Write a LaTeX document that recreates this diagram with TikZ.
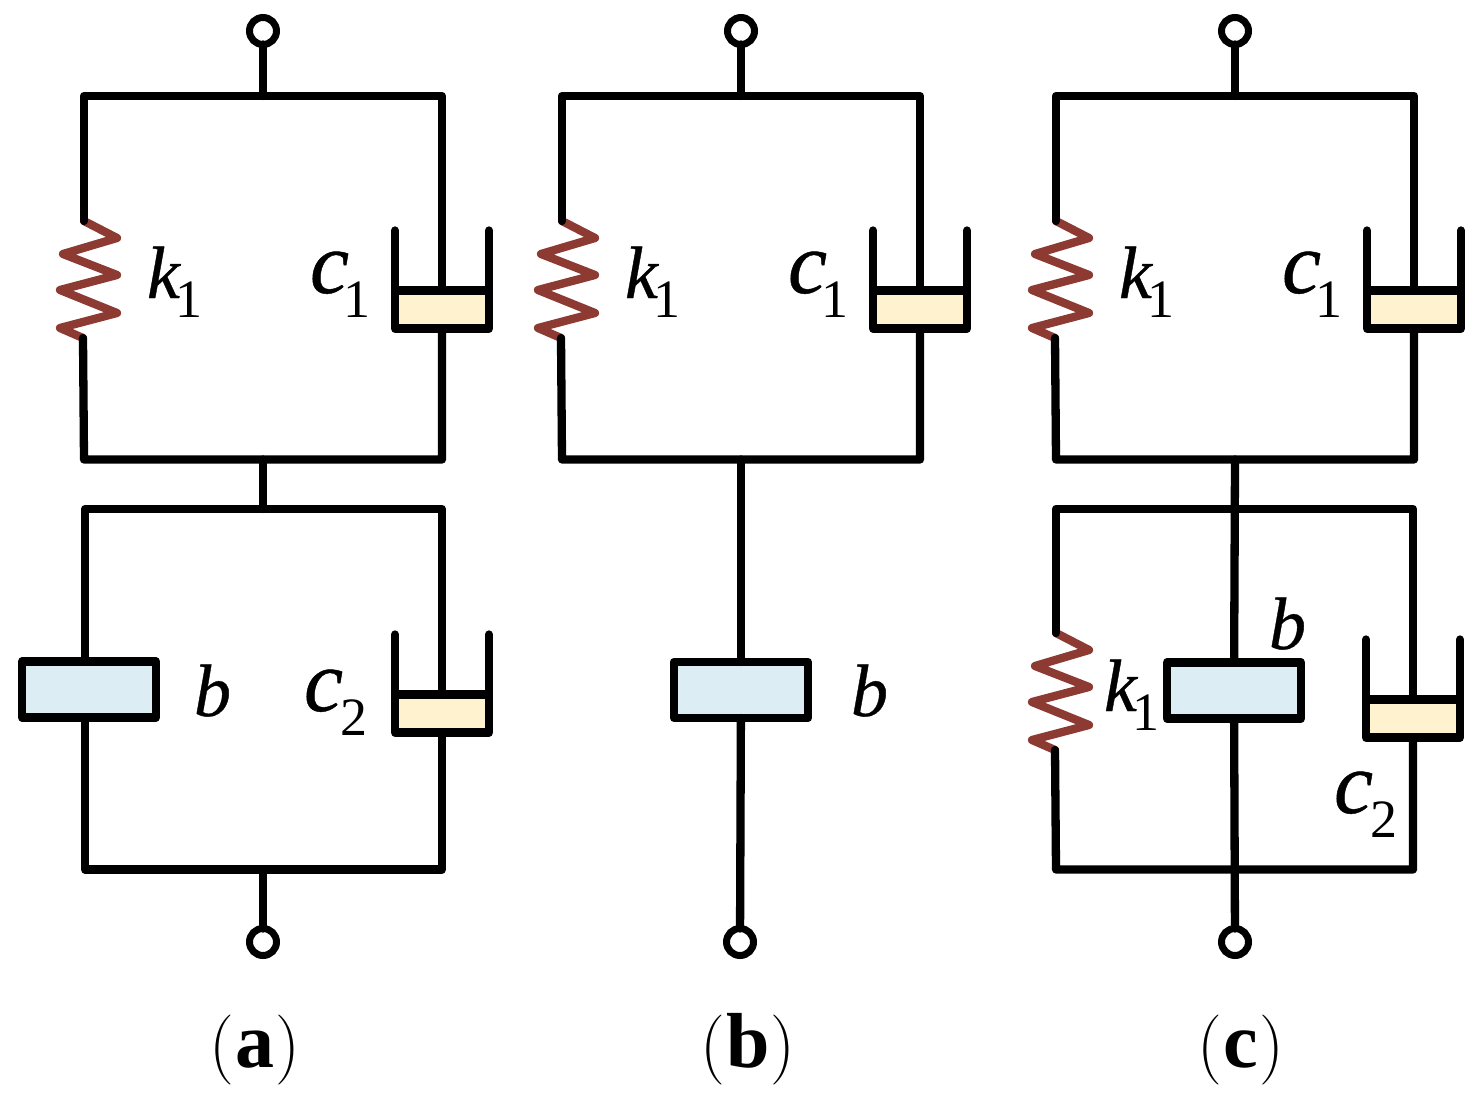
\documentclass[tikz,border=0pt]{standalone}
\usepackage{fontspec}
\newfontfamily\libsym[FakeBold=0.5]{Liberation Serif Italic}
\newfontfamily\libbold{Liberation Serif Bold}
\newfontfamily\libreg{Liberation Serif}
\definecolor{springc}{HTML}{8C3A32}
\definecolor{dampc}{HTML}{FFF2CF}
\definecolor{blockc}{HTML}{DCEEF4}
\newcommand\symf{\fontsize{74}{74}\selectfont\libsym}
\newcommand\symc{\fontsize{88}{88}\selectfont\libsym}
\newcommand\subf{\fontsize{54}{54}\selectfont\libreg}
\tikzset{
  wire/.style={line width=8.3pt,line cap=round,line join=round,black},
  springline/.style={line width=8.3pt,line cap=round,line join=round,springc},
  terminal/.style={circle,draw=black,fill=white,line width=7pt,minimum size=27pt,inner sep=0pt,outer sep=0pt},
  dampbox/.style={rectangle,draw=black,fill=dampc,line width=8.3pt,line join=round,minimum width=94pt,inner sep=0pt,outer sep=0pt},
  blockbox/.style={rectangle,draw=black,fill=blockc,line width=8.3pt,line join=round,minimum width=134pt,minimum height=56pt,inner sep=0pt,outer sep=0pt},
  lab/.style={anchor=base west,inner sep=0pt,outer sep=0pt},
  captext/.style={anchor=base,inner sep=0pt}
}
\newcommand\capt[1]{\fontsize{70}{70}\selectfont\rmfamily(\hspace{1pt}{\fontsize{78}{78}\selectfont\libbold #1}\hspace{1pt})}
% name, x, y of the top end
\newcommand\springat[3]{%
  \coordinate (#1t) at (#2,#3);
  \coordinate (#1b) at ($(#2,#3)+(-1,117)$);
  \draw[springline] (#1t) -- ++(33,17) -- ++(-54,16) -- ++(54,21) -- ++(-57,15) -- ++(57,23) -- ++(-57,15) -- (#1b);
}
% name, x, centre y, box height, wall height above the box
\newcommand\damperat[5]{%
  \node[dampbox,minimum height=#4pt] (#1) at (#2,#3) {};
  \draw[wire] (#1.north west) -- ++(0,-#5);
  \draw[wire] (#1.north east) -- ++(0,-#5);
}
% name, gap, drop, x, y
\newcommand\klab[5]{\node[lab] (#1) at (#4,#5) {\symf k\hspace{#2pt}\raisebox{-#3pt}{\subf 1}};}
\newcommand\clab[6]{\node[lab] (#1) at (#5,#6) {\symc c\hspace{#3pt}\raisebox{-#4pt}{\subf #2}};}
% prefix, dx : the identical upper cell
\newcommand\uppercell[2]{%
  \begin{scope}[shift={(#2,0)}]
    \node[terminal] (#1T) at (263,31) {};
    \coordinate (#1tc) at (263,96);
    \coordinate (#1tl) at (84,96);
    \coordinate (#1tr) at (442,96);
    \coordinate (#1bl) at (84,459.5);
    \coordinate (#1br) at (442,459.5);
    \coordinate (#1bc) at (263,459.5);
    \springat{#1s}{84}{221}
    \damperat{#1d}{442}{309.5}{38}{60}
    \draw[wire] (#1T) -- (#1tc);
    \draw[wire] (#1st) -- (#1tl) -- (#1tr) -- (#1d.north);
    \draw[wire] (#1sb) -- (#1bl) -- (#1br) -- (#1d.south);
    \klab{#1kl}{-4}{19}{147}{298}
    \clab{#1cl}{1}{-6}{24}{310}{293}
  \end{scope}
}
\begin{document}
\begin{tikzpicture}[x=1pt,y=-1pt]
\usetikzlibrary{calc}
\useasboundingbox (0,0) rectangle (1480,1102);
\fill[white] (0,0) rectangle (1480,1102);
\uppercell{a}{0}
\uppercell{b}{478}
\uppercell{c}{972}

% panel (a) lower cell
\coordinate (alt) at (263,509);
\coordinate (altl) at (85,509);
\coordinate (altr) at (442,509);
\coordinate (albl) at (85,869.5);
\coordinate (albr) at (442,869.5);
\coordinate (albc) at (263,869.5);
\node[blockbox] (ablock) at (89,689.5) {};
\damperat{adt}{442}{713.5}{38}{60}
\node[terminal] (aB) at (263,942) {};
\draw[wire] (abc) -- (alt);
\draw[wire] (ablock.north -| altl) -- (altl) -- (altr) -- (adt.north);
\draw[wire] (ablock.south -| albl) -- (albl) -- (albr) -- (adt.south);
\draw[wire] (albc) -- (aB);
\node[lab] (abl) at (194,716) {\symf b};
\clab{acl}{2}{-3}{24}{304}{711}

% panel (b) lower part
\node[blockbox] (bblock) at (741,690) {};
\node[terminal] (bB) at (740,942) {};
\draw[wire] (bbc) -- (bblock);
\draw[wire] (bblock) -- (bB);
\node[lab] (bbl) at (851,716) {\symf b};

% panel (c) lower cell
\coordinate (clt) at (1234,509);
\coordinate (cltl) at (1056,509);
\coordinate (cltr) at (1413,509);
\coordinate (cblc) at (1056,869.5);
\coordinate (cbrc) at (1413,869.5);
\coordinate (cbc2) at (1234,869.5);
\springat{cls}{1056}{633}
\node[blockbox] (cblock) at (1234,690.5) {};
\damperat{cdt}{1413}{718.5}{38}{60}
\node[terminal] (cB) at (1235,942) {};
\draw[wire] (cbc) -- (cblock);
\draw[wire] (cblock) -- (cB);
\draw[wire] (clst) -- (cltl) -- (cltr) -- (cdt.north);
\draw[wire] (clsb) -- (cblc) -- (cbrc) -- (cdt.south);
\node[lab] (cbl) at (1269,649) {\symf b};
\klab{ckl2}{-4}{19}{1104}{711}
\clab{ccl}{2}{-3}{24}{1334}{813}

% captions
\node[captext] (capa) at (255,1067) {\capt{a}};
\node[captext] (capb) at (748,1067) {\capt{b}};
\node[captext] (capc) at (1241,1067) {\capt{c}};
\end{tikzpicture}
\end{document}
